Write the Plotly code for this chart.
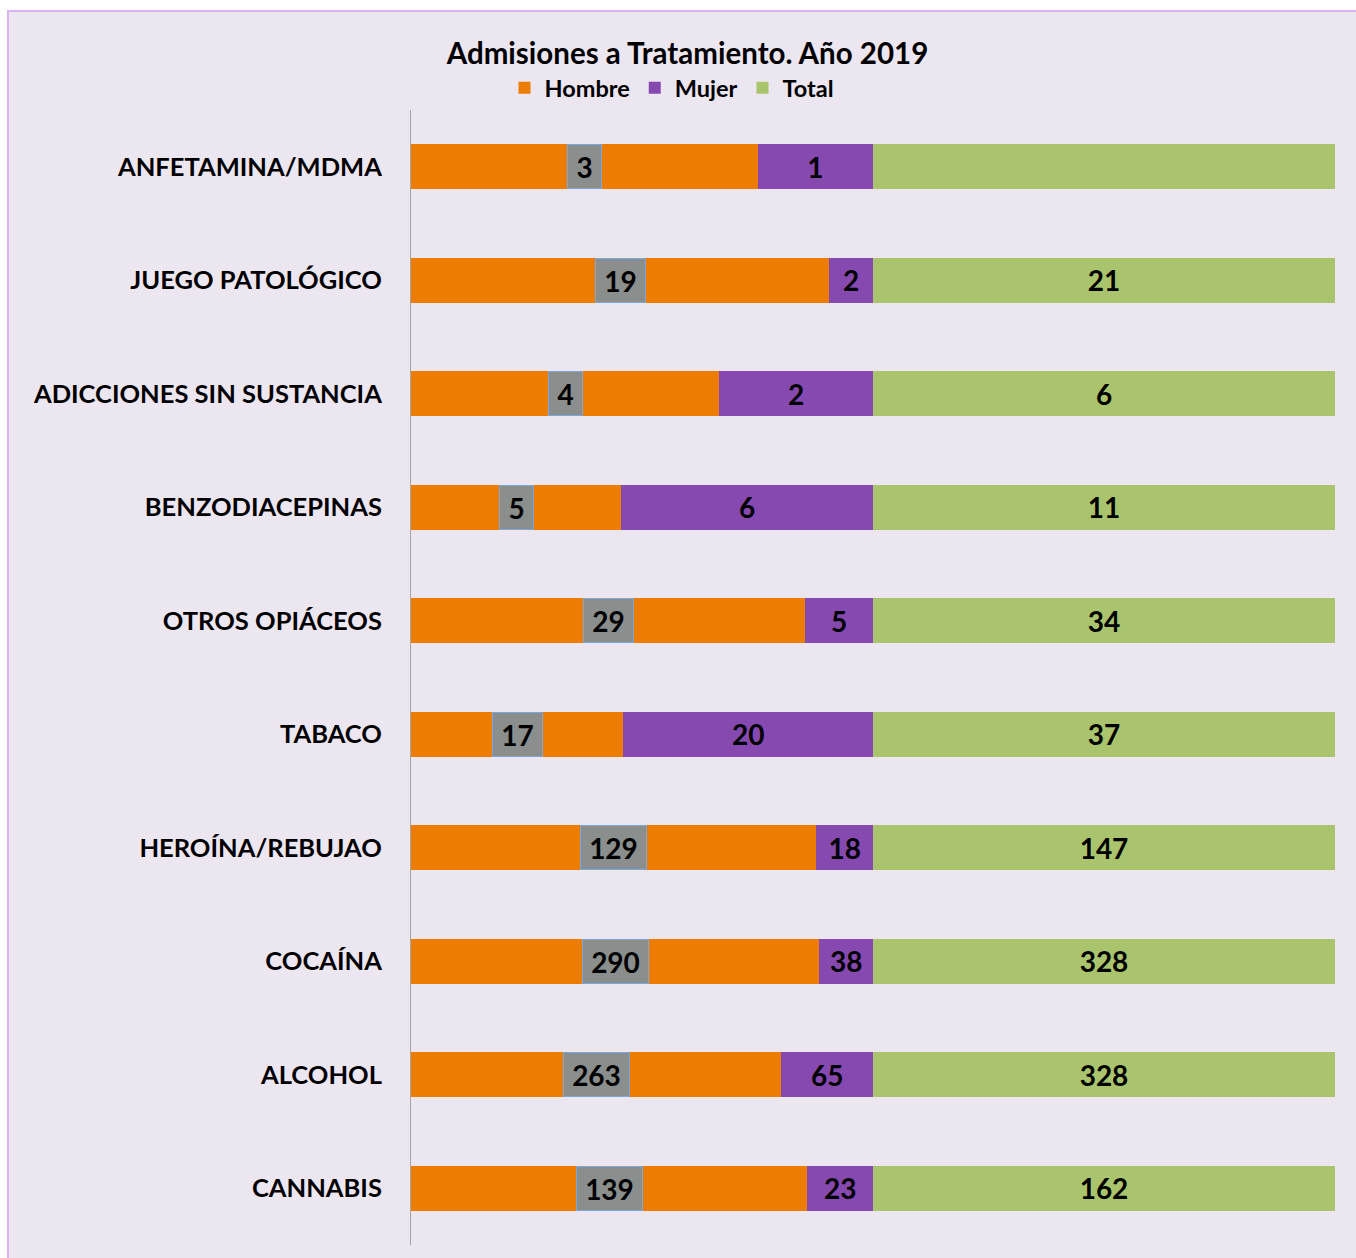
import plotly.graph_objects as go

categories = ["ANFETAMINA/MDMA", "JUEGO PATOLÓGICO", "ADICCIONES SIN SUSTANCIA",
              "BENZODIACEPINAS", "OTROS OPIÁCEOS", "TABACO", "HEROÍNA/REBUJAO",
              "COCAÍNA", "ALCOHOL", "CANNABIS"]
hombre = [3, 19, 4, 5, 29, 17, 129, 290, 263, 139]
mujer = [1, 2, 2, 6, 5, 20, 18, 38, 65, 23]
total = [4, 21, 6, 11, 34, 37, 147, 328, 328, 162]
total_labels = ["", "21", "6", "11", "34", "37", "147", "328", "328", "162"]

BG = "#ECE6F1"
FONT = "Lato"
C_H = "#ED7D02"
C_M = "#8549B0"
C_T = "#A9C46C"
NUM_SIZE = 28

fig = go.Figure()
fig.add_trace(go.Bar(y=categories, x=hombre, name="Hombre", orientation="h",
                     marker=dict(color=C_H, line=dict(width=0))))
fig.add_trace(go.Bar(y=categories, x=mujer, name="Mujer", orientation="h",
                     marker=dict(color=C_M, line=dict(width=0)),
                     text=[str(v) for v in mujer], textposition="inside",
                     insidetextanchor="middle", textangle=0,
                     textfont=dict(color="black", size=NUM_SIZE, family=FONT, weight="bold")))
fig.add_trace(go.Bar(y=categories, x=total, name="Total", orientation="h",
                     marker=dict(color=C_T, line=dict(width=0)),
                     text=total_labels, textposition="inside",
                     insidetextanchor="middle", textangle=0,
                     textfont=dict(color="black", size=NUM_SIZE, family=FONT, weight="bold")))

# Hombre labels in grey boxes at the centre of the Hombre segment
for c, h, m, t in zip(categories, hombre, mujer, total):
    s = h + m + t
    xc = h / s * 100 / 2
    lab = str(h)
    fig.add_annotation(x=xc, y=c, xref="x", yref="y", text=lab, showarrow=False,
                       font=dict(color="black", size=NUM_SIZE, family=FONT, weight="bold"),
                       bgcolor="#8A8E8C", bordercolor="#7DA7D9", borderwidth=1,
                       borderpad=0, width=16 * len(lab) + 17, height=43,
                       xanchor="center", yanchor="middle")

# background frame
fig.add_shape(type="rect", xref="paper", yref="paper",
              x0=(8 - 411) / 924, x1=1.1, y0=-0.1, y1=(1245 - 11) / 1135,
              fillcolor=BG, line=dict(color="#D9B3F5", width=2), layer="below")

fig.update_layout(
    width=1356, height=1258,
    margin=dict(l=411, r=21, t=110, b=13, autoexpand=False),
    paper_bgcolor="white", plot_bgcolor=BG,
    barmode="stack", barnorm="percent", bargap=0.6,
    uniformtext=dict(minsize=NUM_SIZE, mode="show"),
    title=dict(text="<b>Admisiones a Tratamiento. Año 2019</b>",
               x=(443 + 932) / 2 / 1356, xref="container", xanchor="center",
               y=1 - 54 / 1258, yref="container", yanchor="middle",
               font=dict(size=29.5, family=FONT, color="black")),
    legend=dict(orientation="h", x=(672 - 411) / 924, xref="paper", xanchor="center",
                y=(1245 - 88) / 1135, yref="paper", yanchor="middle",
                font=dict(size=23.5, family=FONT, color="black", weight="bold"),
                bgcolor="rgba(0,0,0,0)", itemwidth=30, traceorder="normal",
                tracegroupgap=0),
    xaxis=dict(range=[0, 100], visible=False, showgrid=False, zeroline=False),
    yaxis=dict(autorange="reversed", showline=True, linecolor="#A6A6A6", linewidth=1,
               showgrid=False, ticks="", ticklabelstandoff=23, automargin=False,
               tickfont=dict(size=25.5, family=FONT, color="black", weight="bold")),
    font=dict(family=FONT),
)

fig.write_html("out.html", config={"displayModeBar": False},
               post_script="document.body.style.margin='0';")
